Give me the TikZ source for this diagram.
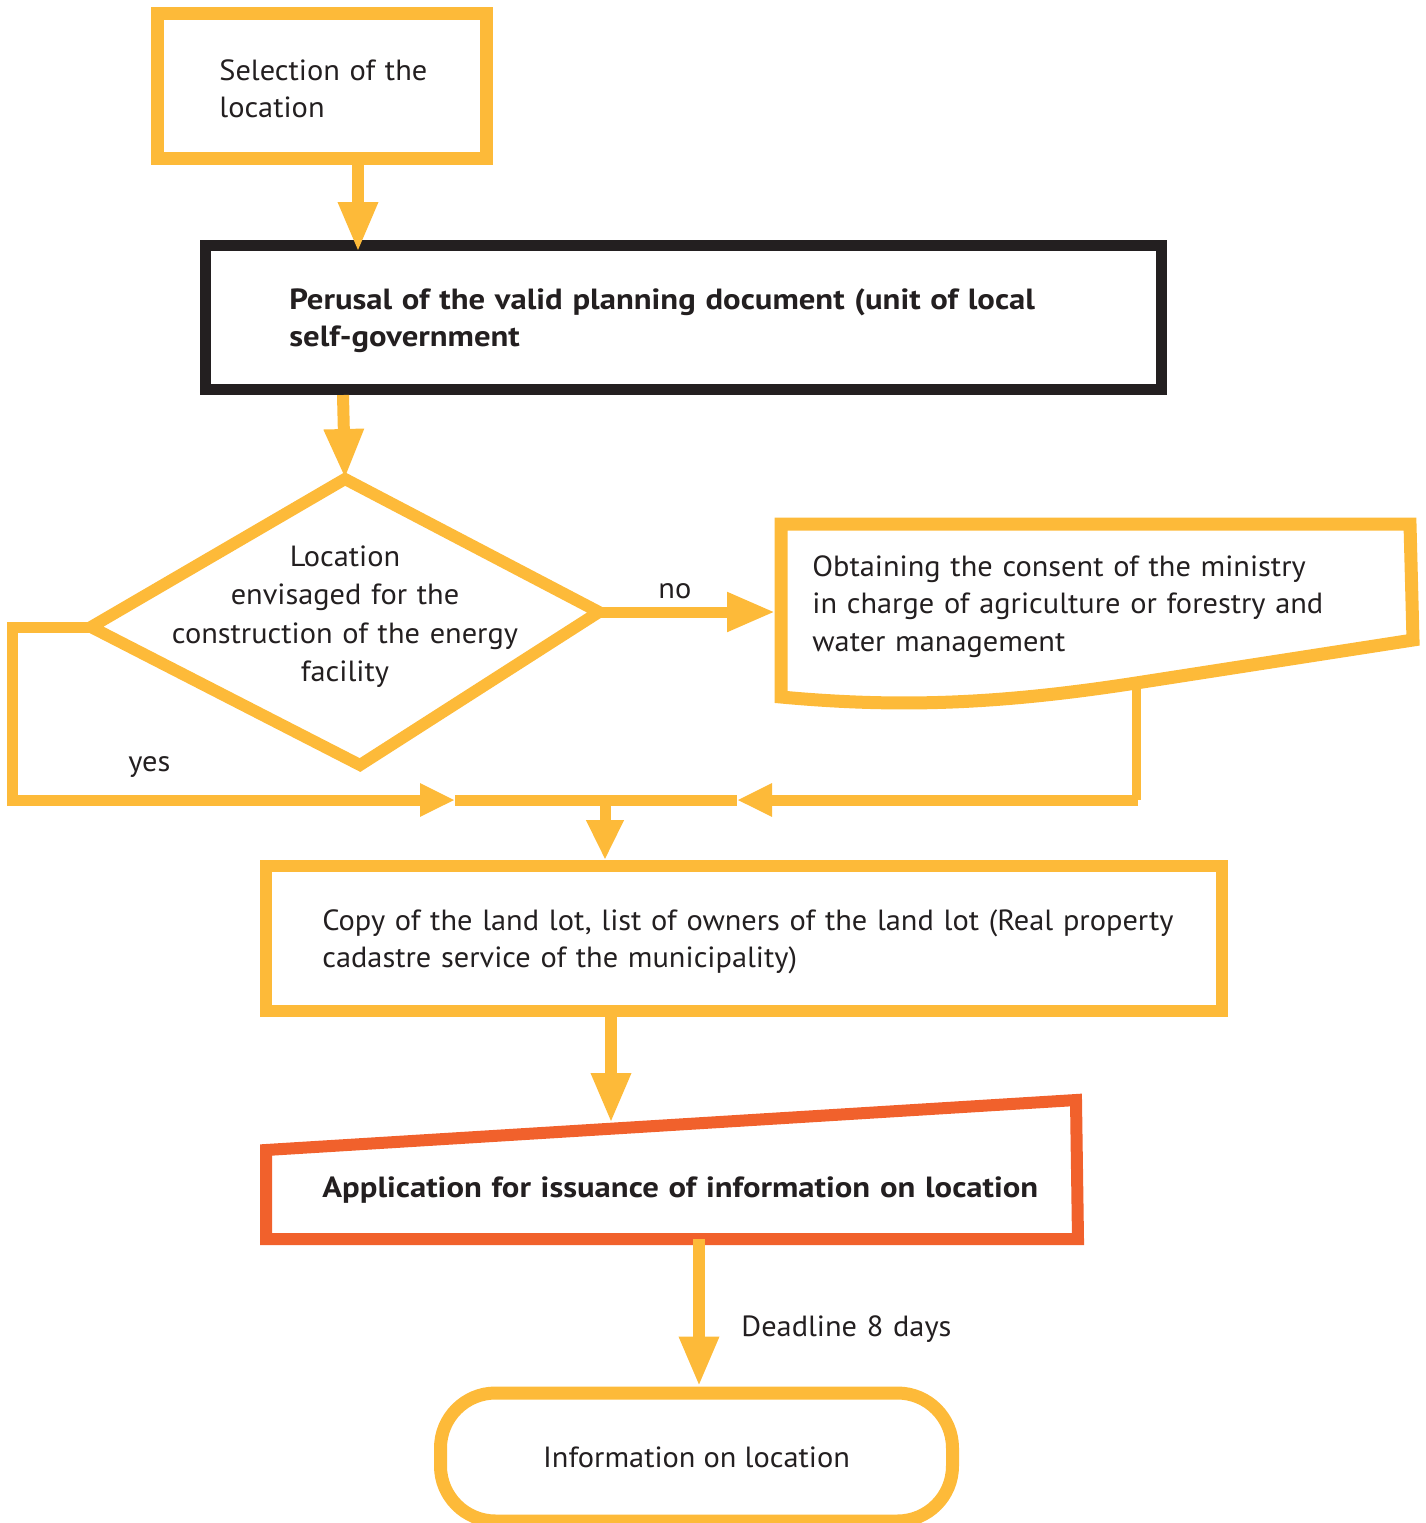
\documentclass[tikz,border=0pt]{standalone}
\usepackage{fontspec}
\setmainfont{PT Sans}[FakeStretch=1.04, BoldFeatures={FakeStretch=1.12}]
\usetikzlibrary{arrows.meta}
\definecolor{yel}{HTML}{FDBA39}
\definecolor{org}{HTML}{F1612C}
\definecolor{ink}{HTML}{231F20}
\newcommand\myfs{\fontsize{14.6pt}{18.75pt}\selectfont}
\tikzset{
  txt/.style={inner sep=0pt, align=left, text=ink, text width=#1, font=\myfs},
  ctxt/.style={inner sep=0pt, align=center, text=ink, text width=#1, font=\fontsize{14.6pt}{19.25pt}\selectfont},
  ybox/.style={draw=yel, line width=6.5pt, fill=white, inner sep=0pt},
  flow/.style={draw=yel, line width=6pt, line join=miter},
  bigtip/.style={-{Triangle[length=25pt,width=18.5pt]}},
  smalltip/.style={-{Triangle[length=17.5pt,width=15.5pt]}},
}
\begin{document}
\begin{tikzpicture}[x=0.5pt,y=-0.5pt]
\useasboundingbox (0,0) rectangle (1426,1523);
% box 1
\node[ybox, minimum width=164.5pt, minimum height=72.5pt] (b1) at (322,86) {};
\node[txt=150pt, anchor=base west] (t1) at (219,80) {Selection of the\\location};
% box 2
\node[draw=ink, line width=5.5pt, fill=white, inner sep=0pt, minimum width=478pt, minimum height=72pt] (b2) at (683.5,317.5) {};
\node[txt=450pt, anchor=base west, font=\myfs\bfseries] (t2) at (289,309) {Perusal of the valid planning document (unit of local\\self-government};
% arrows top
\draw[flow, bigtip, shorten >=-6pt] ([xshift=18pt]b1.south) -- ([xshift=18pt]b1.south |- b2.north);
% diamond
\coordinate (dT) at (345,479);
\coordinate (dR) at (599,612);
\coordinate (dB) at (360,765);
\coordinate (dL) at (91,627);
\draw[flow] (dT) -- (dR) -- (dB) -- (dL) -- cycle;
\node[ctxt=200pt, anchor=base] (td) at (345,566) {Location\\envisaged for the\\construction of the energy\\facility};
\coordinate (b2B) at (343,395);
\draw[flow, bigtip] (b2B) -- (dT);
% box 3
\coordinate (b3TL) at (781,524);
\coordinate (b3TR) at (1410,524);
\coordinate (b3BR) at (1413,640);
\coordinate (b3J) at (1136,683);
\coordinate (b3BL) at (781,697);
\coordinate (b3L) at (775,612);
\draw[flow, line width=6.5pt] (b3TL) -- (b3TR) -- (b3BR) -- (b3J) .. controls (1000,704) and (900,708) .. (b3BL) -- cycle;
\node[txt=320pt, anchor=base west] (t3) at (812,576) {Obtaining the consent of the ministry\\in charge of agriculture or forestry and\\water management};
% no arrow
\draw[flow, line width=5.5pt, -{Triangle[length=24pt,width=18.5pt]}] (dR) -- (b3L);
\node[txt=40pt, anchor=base west] (tno) at (658,598) {no};
% junction line
\coordinate (jy) at (455,800);
\coordinate (jn) at (737,800);
\coordinate (j) at (605,800);
\coordinate (c1) at (12,627);
\coordinate (c2) at (12,800);
\coordinate (c3) at (1136,800);
\coordinate (c4) at (1138,800);
\draw[flow, line width=5.5pt, smalltip] (dL) -- (c1) -- (c2) -- (jy);
\draw[flow, line width=5.5pt] (jy) -- (jn);
\draw[flow, line width=4.5pt] (b3J) -- (c3);
\draw[flow, line width=5.5pt, smalltip] (c4) -- (jn);
\node[txt=40pt, anchor=base west] (tyes) at (128,771) {yes};
% box 4
\node[ybox, line width=6pt, minimum width=478pt, minimum height=72.5pt] (b4) at (744,938.5) {};
\node[txt=470pt, anchor=base west] (t4) at (322,930) {Copy of the land lot, list of owners of the land lot (Real property\\cadastre service of the municipality)};
\draw[flow, line width=5.5pt, -{Triangle[length=20pt,width=17.5pt]}] (j) -- (j |- b4.north);
% box 5
\coordinate (b5TL) at (266,1150);
\coordinate (b5TR) at (1076,1100);
\coordinate (b5BR) at (1078,1239);
\coordinate (b5BL) at (266,1239);
\coordinate (b5T) at (611,1123);
\coordinate (b5B) at (699,1239);
\draw[draw=org, line width=6pt, line join=miter] (b5TL) -- (b5TR) -- (b5BR) -- (b5BL) -- cycle;
\node[txt=450pt, anchor=base west, font=\myfs\bfseries] (t5) at (322,1197) {Application for issuance of information on location};
\draw[flow, bigtip] (b5T |- b4.south) -- (b5T);
% box 6
\node[ybox, rounded corners=27.5pt, minimum width=256pt, minimum height=64pt, font=\myfs, text=ink] (b6) at (696.5,1457) {Information on location};
\draw[flow, bigtip] (b5B) -- (b5B |- b6.north);
\node[txt=150pt, anchor=base west] (tdl) at (741,1336) {Deadline 8 days};
\end{tikzpicture}
\end{document}
